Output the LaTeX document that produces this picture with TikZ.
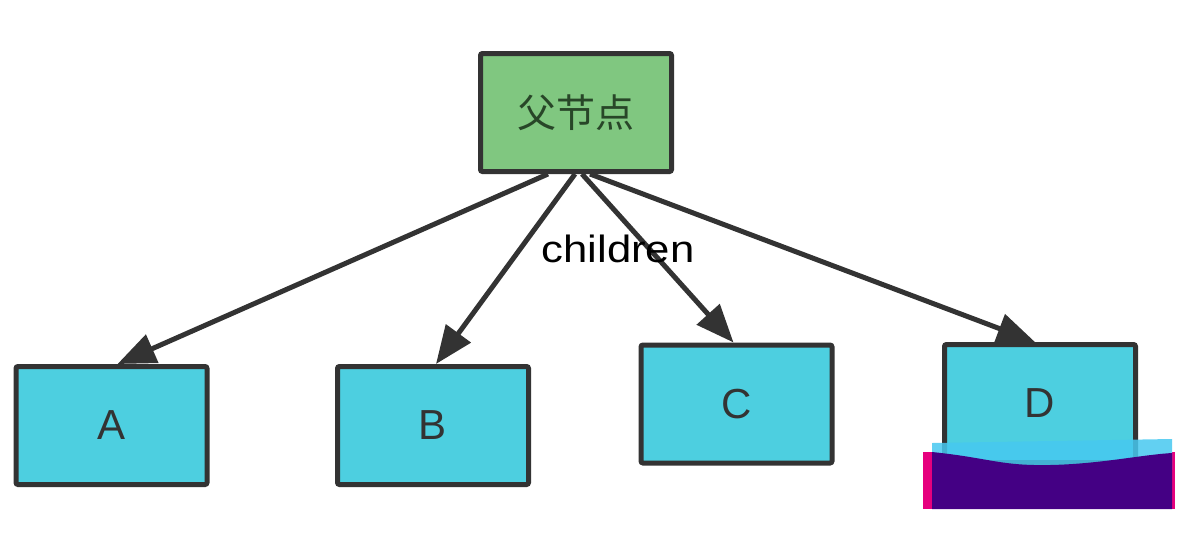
\documentclass[tikz,border=0pt]{standalone}
\usepackage{fontspec}
\setmainfont{Liberation Sans}
\newfontfamily\cjk{Noto Sans CJK SC}
\usetikzlibrary{arrows.meta}
\definecolor{boxgreen}{RGB}{128,199,128}
\definecolor{boxcyan}{RGB}{77,207,224}
\definecolor{edgegray}{RGB}{51,51,51}
\definecolor{cjkgreen}{RGB}{40,70,40}
\definecolor{artcyan}{RGB}{70,200,240}
\definecolor{artmag}{RGB}{230,0,126}
\definecolor{artpurple}{RGB}{68,0,132}
\tikzset{
  treebox/.style={draw=edgegray, line width=5pt, rounded corners=2pt,
    minimum width=191pt, minimum height=118pt, inner sep=0pt},
  parentbox/.style={treebox, fill=boxgreen, text=cjkgreen,
    font=\cjk\fontsize{39}{44}\selectfont},
  childbox/.style={treebox, fill=boxcyan, text=edgegray,
    font=\fontsize{42}{48}\selectfont},
  arr/.style={draw=edgegray, line width=5pt,
    -{Triangle[length=38pt,width=30pt]}},
}
\begin{document}
\begin{tikzpicture}[x=1pt,y=-1pt]
\useasboundingbox (0,0) rectangle (1190,544);
\node[parentbox] (P) at (576,112.5) {父节点};
\node[childbox] (A) at (111.5,425.5) {A};
\node[childbox] (B) at (433,425.5) {B};
\node[childbox] (C) at (736.5,404) {C};
\node[childbox] (D) at (1040,403.5) {D};
\draw[arr] ([xshift=-28pt]P.south) -- ([xshift=6pt]A.north);
\draw[arr] ([xshift=-1pt]P.south) -- ([xshift=3pt]B.north);
\draw[arr] ([xshift=6pt]P.south) -- ([xshift=-3pt]C.north);
\draw[arr] ([xshift=14pt]P.south) -- ([xshift=-5pt]D.north);
\node[font=\fontsize{38}{44}\selectfont, text=black, inner sep=0pt] (lbl) at (618,249) {\scalebox{1.15}[1]{children}};
% colour artefact at the lower right
\fill[artmag] (923,452) rectangle (932,509);
\fill[artmag] (1172,452) rectangle (1175,509);
\fill[artcyan, opacity=0.85] (932,443) -- (1172,439) -- (1172,470) -- (932,470) -- cycle;
\fill[artpurple] (932,452) .. controls (990,458) and (1000,466) .. (1050,465)
  .. controls (1100,464) and (1140,455) .. (1172,453) -- (1172,509) -- (932,509) -- cycle;
\end{tikzpicture}
\end{document}
